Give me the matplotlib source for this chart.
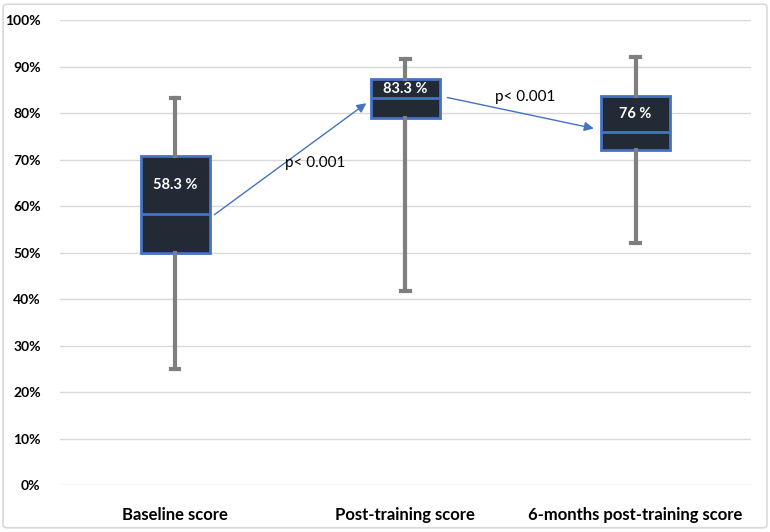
import matplotlib
matplotlib.use("Agg")
import matplotlib.pyplot as plt
from matplotlib.patches import FancyBboxPatch
from matplotlib.ticker import PercentFormatter

# data (fractions)
categories = ["Baseline score", "Post-training score", "6-months post-training score"]
whis_low = [0.25, 0.417, 0.52]
q1 = [0.50, 0.79, 0.72]
median = [0.583, 0.833, 0.76]
q3 = [0.708, 0.873, 0.838]
whis_high = [0.833, 0.917, 0.92]
median_labels = ["58.3 %", "83.3 %", "76 %"]
p_labels = ["p< 0.001", "p< 0.001"]

font = ["Lato", "DejaVu Sans"]
box_face = "#222a35"
box_edge = "#4472c4"
whisker_col = "#7f7f7f"

fig = plt.figure(figsize=(7.7, 5.32), dpi=100)
ax = fig.add_axes([0.078, 0.088, 0.897, 0.874])

# outer frame
fig.patches.append(FancyBboxPatch((0.004, 0.008), 0.992, 0.984,
                                  boxstyle="round,pad=0,rounding_size=0.005",
                                  transform=fig.transFigure, fill=False,
                                  edgecolor="#d9d9d9", linewidth=1.2))

stats = []
for i in range(len(categories)):
    stats.append(dict(whislo=whis_low[i], q1=q1[i], med=median[i],
                      q3=q3[i], whishi=whis_high[i], fliers=[]))

pos = list(range(len(categories)))
ax.bxp(stats, positions=pos, widths=0.30, capwidths=0.036,
       showfliers=False, patch_artist=True,
       boxprops=dict(facecolor=box_face, edgecolor=box_edge, linewidth=2),
       medianprops=dict(color=box_edge, linewidth=2),
       whiskerprops=dict(color=whisker_col, linewidth=3),
       capprops=dict(color=whisker_col, linewidth=3),
       zorder=3)

# labels inside boxes
for i in pos:
    ax.text(i, (q3[i] + median[i]) / 2, median_labels[i], ha="center",
            va="center", color="white", fontsize=10.5, fontweight="bold",
            family=font, zorder=5)

# arrows between medians
arrow_kw = dict(arrowstyle="-|>", color=box_edge, lw=1, mutation_scale=14)
ax.annotate("", xy=(1 - 0.16, median[1] - 0.008), xytext=(0 + 0.16, median[0] - 0.005),
            arrowprops=arrow_kw, zorder=4)
ax.annotate("", xy=(2 - 0.17, median[2] + 0.006), xytext=(1 + 0.17, median[1] + 0.002),
            arrowprops=arrow_kw, zorder=4)

ax.text(0.61, 0.692, p_labels[0], ha="center", va="center", fontsize=11,
        family=font, zorder=5)
ax.text(1.52, 0.834, p_labels[1], ha="center", va="center", fontsize=11,
        family=font, zorder=5)

ax.set_xlim(-0.5, 2.5)
ax.set_ylim(0, 1.0)
ax.set_yticks([i / 10 for i in range(11)])
ax.yaxis.set_major_formatter(PercentFormatter(1.0, decimals=0))
ax.set_xticks(pos)
ax.set_xticklabels(categories)
for lab in ax.get_xticklabels():
    lab.set_fontsize(12)
    lab.set_fontweight("bold")
    lab.set_family(font)
for lab in ax.get_yticklabels():
    lab.set_fontsize(10)
    lab.set_fontweight("bold")
    lab.set_family(font)
ax.tick_params(axis="both", length=0)
ax.tick_params(axis="y", pad=14)
ax.tick_params(axis="x", pad=16)
ax.grid(axis="y", color="#d9d9d9", linewidth=1)
ax.set_axisbelow(True)
for s in ax.spines.values():
    s.set_visible(False)

fig.savefig("out.png", dpi=100)
